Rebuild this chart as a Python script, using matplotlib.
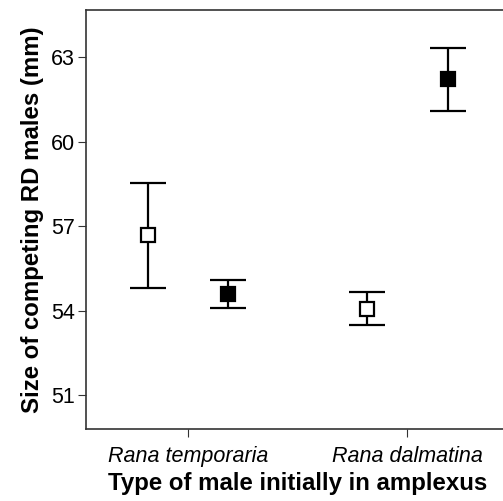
import matplotlib
matplotlib.use("Agg")
import matplotlib.pyplot as plt
import numpy as np

plt.rcParams['font.family'] = ['Liberation Sans', 'DejaVu Sans']

species = ["Rana temporaria", "Rana dalmatina"]
# open squares / filled squares: mean, lower, upper
open_mean = [56.70, 54.06]
open_low = [54.80, 53.50]
open_high = [58.54, 54.65]
filled_mean = [54.59, 62.21]
filled_low = [54.08, 61.08]
filled_high = [55.10, 63.33]

fig = plt.figure(figsize=(5.03, 5.01), dpi=100)
# right spine sits just past the image edge, as in the original
ax = fig.add_axes([0.171, 0.1437, 0.842, 0.836])

x = np.arange(len(species))
off = 0.183

def draw(xs, mean, low, high, face):
    mean = np.array(mean)
    yerr = [mean - np.array(low), np.array(high) - mean]
    ax.errorbar(xs, mean, yerr=yerr, fmt='s', color='black', ecolor='black',
                elinewidth=1.6, capsize=13, capthick=1.6, markersize=10,
                markerfacecolor=face, markeredgecolor='black', markeredgewidth=1.6,
                zorder=3)

draw(x - off, open_mean, open_low, open_high, 'white')
draw(x + off, filled_mean, filled_low, filled_high, 'black')

ax.set_xlim(-0.466, 1.466)
ax.set_ylim(49.79, 64.67)
ax.set_yticks([51, 54, 57, 60, 63])
ax.set_xticks(x)
ax.set_xticklabels(species, style='italic', fontsize=15.5)
ax.tick_params(axis='y', labelsize=15.5, length=6, pad=2, color='#333333')
ax.tick_params(axis='x', length=6, color='#333333', pad=6)
for s in ax.spines.values():
    s.set_color('#333333')
    s.set_linewidth(1.2)

ax.set_ylabel("Size of competing RD males (mm)", fontsize=17.3, fontweight='bold', labelpad=5)
ax.set_xlabel("Type of male initially in amplexus", fontsize=17.3, fontweight='bold', labelpad=4)

fig.savefig("out.png", dpi=100)
